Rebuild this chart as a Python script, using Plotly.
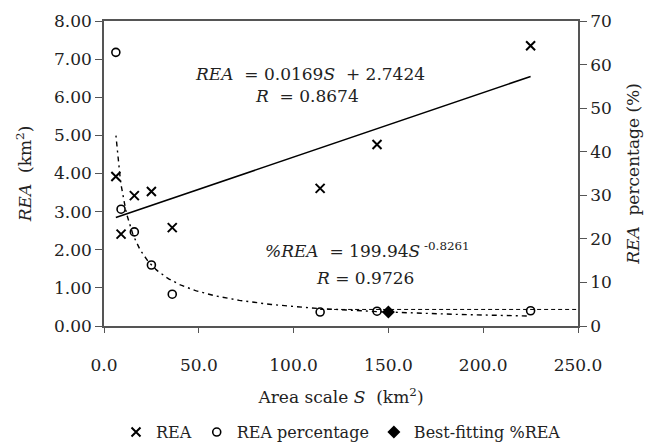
import plotly.graph_objects as go
import numpy as np

# Data
S_vals = [6.25, 9, 16, 25, 36, 114, 144, 225]
rea_vals = [3.92, 2.41, 3.42, 3.53, 2.58, 3.61, 4.76, 7.35]
pct_vals = [62.8, 26.8, 21.6, 14.0, 7.3, 3.2, 3.4, 3.5]
best_S = [150]
best_pct = [3.2]
lin_a, lin_b = 0.0169, 2.7424
pow_a, pow_b = 199.94, -0.8261
plateau_pct = 3.8
plateau_S = [114, 250]

FONT = "DejaVu Serif"
AX = "#555555"

fig = go.Figure()

ls = np.array([min(S_vals), max(S_vals)])
fig.add_trace(go.Scatter(x=ls, y=lin_a * ls + lin_b, mode="lines",
                         line=dict(color="black", width=1.6), showlegend=False, hoverinfo="skip"))
ps = np.linspace(6.3, 225, 300)
fig.add_trace(go.Scatter(x=ps, y=pow_a * ps ** pow_b, mode="lines", yaxis="y2",
                         line=dict(color="black", width=1.4, dash="2px,4px,5px,4px"),
                         showlegend=False, hoverinfo="skip"))
fig.add_trace(go.Scatter(x=plateau_S, y=[plateau_pct, plateau_pct], mode="lines", yaxis="y2",
                         line=dict(color="black", width=1, dash="4px,3px"),
                         showlegend=False, hoverinfo="skip"))

fig.add_trace(go.Scatter(x=S_vals, y=rea_vals, mode="markers", name="REA",
                         marker=dict(symbol="x-thin", size=9, line=dict(color="black", width=2))))
fig.add_trace(go.Scatter(x=S_vals, y=pct_vals, mode="markers", name="REA percentage", yaxis="y2",
                         marker=dict(symbol="circle-open", size=8, color="black", line=dict(color="black", width=1.6))))
fig.add_trace(go.Scatter(x=best_S, y=best_pct, mode="markers", name="Best-fitting %REA", yaxis="y2",
                         marker=dict(symbol="diamond", size=10, color="black")))

fs = 17
tf = dict(family=FONT, size=fs, color="#222")
lf = dict(family=FONT, size=16, color="#222")
fig.update_layout(
    width=651, height=446,
    margin=dict(l=104, r=73, t=21, b=120, autoexpand=False),
    paper_bgcolor="white", plot_bgcolor="white",
    font=tf,
    xaxis=dict(range=[0, 250], dtick=50, tickformat=".1f", showgrid=False, zeroline=False,
               showline=True, linecolor=AX, linewidth=1.5, mirror=True, automargin=False,
               ticks="outside", ticklen=5, tickcolor=AX, ticklabelstandoff=18, tickfont=tf,
               title=dict(text="Area scale <i>S</i>  (km<sup>2</sup>)", standoff=17, font=tf)),
    yaxis=dict(range=[0, 8], dtick=1, tickformat=".2f", showgrid=False, zeroline=False,
               showline=True, linecolor=AX, linewidth=1.5, tickfont=tf, automargin=False,
               ticks="outside", ticklen=7, tickcolor=AX,
               title=dict(text="<i>REA</i>  (km<sup>2</sup>)", standoff=18, font=tf)),
    yaxis2=dict(range=[0, 70], dtick=10, overlaying="y", side="right", showgrid=False, zeroline=False,
                showline=True, linecolor=AX, linewidth=1.5, tickfont=tf, automargin=False,
                ticks="outside", ticklen=7, tickcolor=AX,
                title=dict(text="<i>REA</i>  percentage (%)", standoff=16, font=tf)),
    legend=dict(orientation="h", x=0.5, xanchor="center", yref="container", y=0.031, yanchor="middle",
                font=lf, itemwidth=30, tracegroupgap=0, bgcolor="rgba(0,0,0,0)"),
    showlegend=True,
)

fig.add_annotation(x=46.7, y=6.6, xref="x", yref="y", xanchor="left", showarrow=False,
                   text="<i>REA</i>  = 0.0169<i>S</i>  + 2.7424", font=tf)
fig.add_annotation(x=78.4, y=6.02, xref="x", yref="y", xanchor="left", showarrow=False,
                   text="<i>R</i>  = 0.8674", font=tf)
fig.add_annotation(x=83.7, y=1.99, xref="x", yref="y", xanchor="left", showarrow=False,
                   text="<i>%REA</i>  = 199.94<i>S</i><sup> -0.8261</sup>", font=tf)
fig.add_annotation(x=111, y=1.26, xref="x", yref="y", xanchor="left", showarrow=False,
                   text="<i>R</i> = 0.9726", font=tf)

fig.write_html("out.html")
